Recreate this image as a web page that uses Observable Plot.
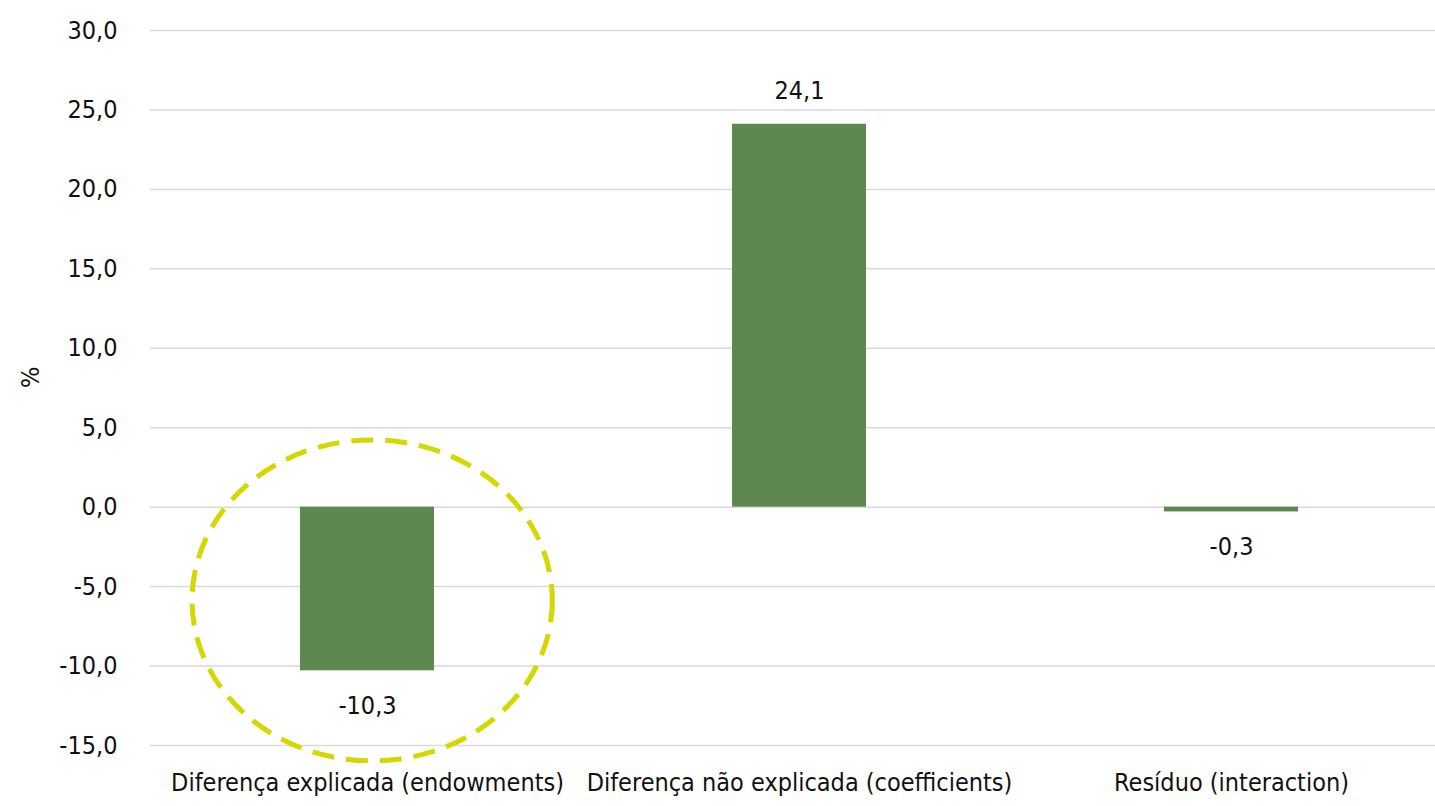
<!DOCTYPE html>
<html>
<head>
<meta charset="utf-8">
<script src="https://cdn.jsdelivr.net/npm/d3@7"></script>
<script src="https://cdn.jsdelivr.net/npm/@observablehq/plot@0.6"></script>
<style>
  html, body { margin: 0; padding: 0; background: #fff; }
  #chart svg { display: block; }
</style>
</head>
<body>
<div id="chart"></div>
<script>
// ---- data ----
const categories = [
  "Diferença explicada (endowments)",
  "Diferença não explicada (coefficients)",
  "Resíduo (interaction)"
];
const values = [-10.3, 24.1, -0.3];
const yTicks = [-15, -10, -5, 0, 5, 10, 15, 20, 25, 30];
const yAxisLabel = "%";
// highlighted category (dashed ellipse annotation), in data units
const highlightCategory = categories[0];
const highlightCenterY = -5.9;
const highlightRadiusY = 10.1;

const data = categories.map((c, i) => ({category: c, value: values[i]}));
const fmt = v => v.toFixed(1).replace(".", ",");

const FONT = '"Liberation Sans Narrow", "DejaVu Sans Condensed", "Roboto Condensed", sans-serif';

const ellipseMark = Plot.dot([{category: highlightCategory, y: highlightCenterY}], {
  x: "category",
  y: "y",
  render(index, scales, values, dimensions, context) {
    const g = d3.create("svg:g");
    const step = scales.x.step();
    const bw = scales.x.bandwidth();
    const cx = scales.x(highlightCategory) + bw / 2 + step * 0.012;
    const cy = scales.y(highlightCenterY);
    const ry = Math.abs(scales.y(highlightCenterY + highlightRadiusY) - cy);
    const rx = step * 0.417;
    g.append("ellipse")
      .attr("cx", cx).attr("cy", cy)
      .attr("rx", rx).attr("ry", ry)
      .attr("fill", "none")
      .attr("stroke", "#d2d800")
      .attr("stroke-width", 5)
      .attr("stroke-dasharray", "22,12");
    return g.node();
  }
});

const chart = Plot.plot({
  width: 1435,
  height: 806,
  marginLeft: 150,
  marginRight: 0,
  marginTop: 30,
  marginBottom: 61,
  style: {fontFamily: FONT, fontSize: "25px", color: "#111", background: "#fff"},
  x: {
    domain: categories,
    range: [151, 1447],
    paddingInner: 0.69,
    paddingOuter: 0.345,
    label: null,
    tickSize: 0,
    tickPadding: 28
  },
  y: {
    domain: [-15, 30],
    ticks: yTicks,
    tickFormat: fmt,
    label: null,
    tickSize: 0,
    tickPadding: 33
  },
  marks: [
    Plot.ruleY(yTicks, {stroke: "#d9d9d9", strokeWidth: 1.5}),
    Plot.barY(data, {x: "category", y: "value", fill: "#5d8951"}),
    Plot.text(data.filter(d => d.value >= 0), {x: "category", y: "value", text: d => fmt(d.value), dy: -33, fill: "#111"}),
    Plot.text(data.filter(d => d.value < 0), {x: "category", y: "value", text: d => fmt(d.value), dy: 35, fill: "#111"}),
    ellipseMark,
    Plot.text([yAxisLabel], {frameAnchor: "left", dx: -120, rotate: -90, fill: "#111"})
  ]
});
document.getElementById("chart").appendChild(chart);
</script>
</body>
</html>
